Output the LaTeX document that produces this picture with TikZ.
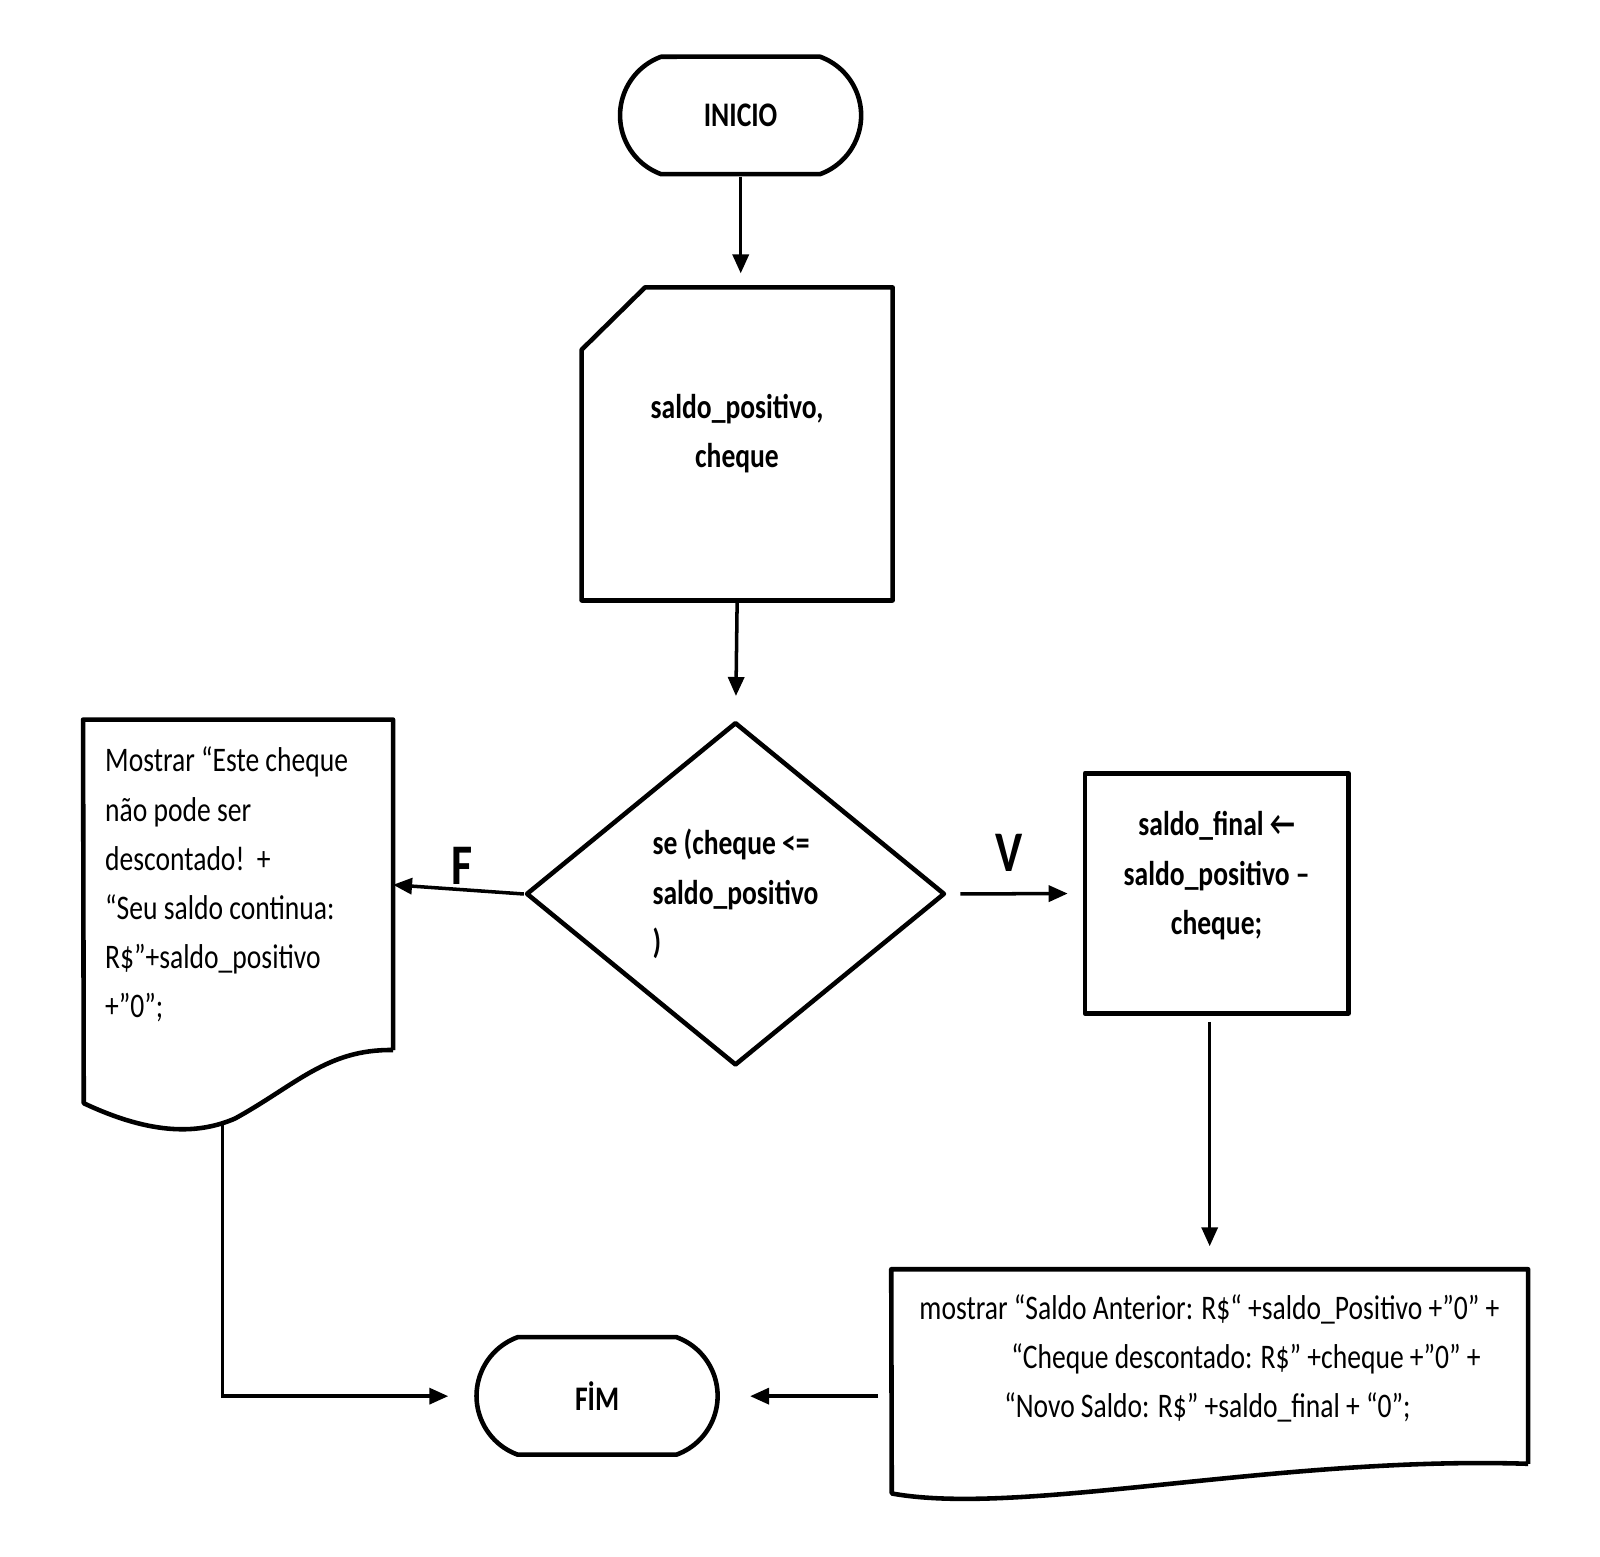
\documentclass[tikz,border=0pt]{standalone}
\usepackage{fontspec}
\setmainfont{Carlito}[FakeStretch=0.8]
\usetikzlibrary{arrows.meta,shapes.geometric,shapes.misc,calc}
\tikzset{
  plain/.style={font=\fontsize{9.6}{13.7}\selectfont, inner sep=0pt},
  bold/.style={font=\fontsize{9.6}{13.7}\selectfont\bfseries},
  outline/.style={line width=1.3pt, line join=round},
  terminal/.style={plain, bold, draw, outline, rounded rectangle, rounded rectangle arc length=140,
    minimum width=2.36cm, minimum height=1.15cm},
  decision/.style={plain, bold, draw, outline, diamond, minimum width=4.1cm, minimum height=3.36cm, align=left},
  arr/.style={line width=1pt, -{Triangle[length=0.19cm,width=0.16cm]}},
  branch/.style={font=\fontsize{16}{16}\selectfont\bfseries, inner sep=0pt}
}
\begin{document}
\begin{tikzpicture}[scale=1.0215, transform shape]
  \useasboundingbox (0,0) rectangle (15.663,-15.242);

  \node[terminal] (inicio) at (7.25,-1.13) {INICIO};

  \node[plain, bold, minimum width=3.03cm, minimum height=3.05cm, text depth=0.26cm, align=center] (card) at (7.215,-4.345)
    {saldo\_positivo,\\cheque};
  \draw[outline] (card.south west) -- ($(card.north west)+(0,-0.61)$) -- ($(card.north west)+(0.62,0)$)
    -- (card.north east) -- (card.south east) -- cycle;

  \node[decision] (cond) at (7.2,-8.75) {se (cheque <=\\saldo\_positivo\\)};

  \node[plain, minimum width=3.02cm, minimum height=3.22cm, text width=2.6cm, inner xsep=0.21cm, align=flush left]
    (msgF) at (2.33,-8.66)
    {Mostrar “Este cheque\\não pode ser\\descontado!~~+\\“Seu saldo continua:\\R\$”+saldo\_positivo\\+”0”;};
  \draw[outline] (msgF.south east) -- (msgF.north east) -- (msgF.north west) -- (0.82,-10.80)
    .. controls (1.50,-11.12) and (1.95,-11.10) .. (2.30,-10.95)
    .. controls (2.90,-10.62) and (3.20,-10.27) .. (msgF.south east);
  \coordinate (fwave) at (2.18,-11.0);

  \node[plain, bold, draw, outline, minimum width=2.58cm, minimum height=2.35cm, text depth=0.4cm, align=center]
    (calc) at (11.91,-8.745) {saldo\_final ←\\saldo\_positivo –\\cheque;};

  \node[plain, minimum width=6.22cm, minimum height=1.89cm, text depth=0.2cm, align=left]
    (msgV) at (11.84,-13.375)
    {mostrar “Saldo Anterior: R\$“ +saldo\_Positivo +”0” +\\
     \hspace*{0.9cm}“Cheque descontado: R\$” +cheque +”0” +\\
     \hspace*{0.83cm}“Novo Saldo: R\$” +saldo\_final + “0”;};
  \draw[outline] (msgV.south east) -- (msgV.north east) -- (msgV.north west) -- (8.73,-14.62)
    .. controls (10.00,-14.85) and (12.50,-14.25) .. (msgV.south east);

  \node[terminal] (fim) at (5.845,-13.665) {FİM};

  \node[branch] (lblF) at (4.52,-8.48) {F};
  \node[branch] (lblV) at (9.88,-8.35) {V};

  \draw[arr, shorten >=0.14cm] (inicio.south) -- (inicio.south |- card.north);
  \draw[arr, shorten >=0.24cm] (card.south) -- (cond.north);
  \draw[arr] (cond.west) -- (msgF.east);
  \draw[arr, shorten <=0.13cm, shorten >=0.15cm] (cond.east) -- (calc.west);
  \draw[arr, shorten <=0.06cm, shorten >=0.23cm] (msgV.north |- calc.south) -- (msgV.north);
  \draw[arr, shorten >=0.26cm] (fwave) |- (fim.west);
  \draw[arr, shorten <=0.13cm, shorten >=0.3cm] (msgV.west |- fim.east) -- (fim.east);
\end{tikzpicture}
\end{document}
